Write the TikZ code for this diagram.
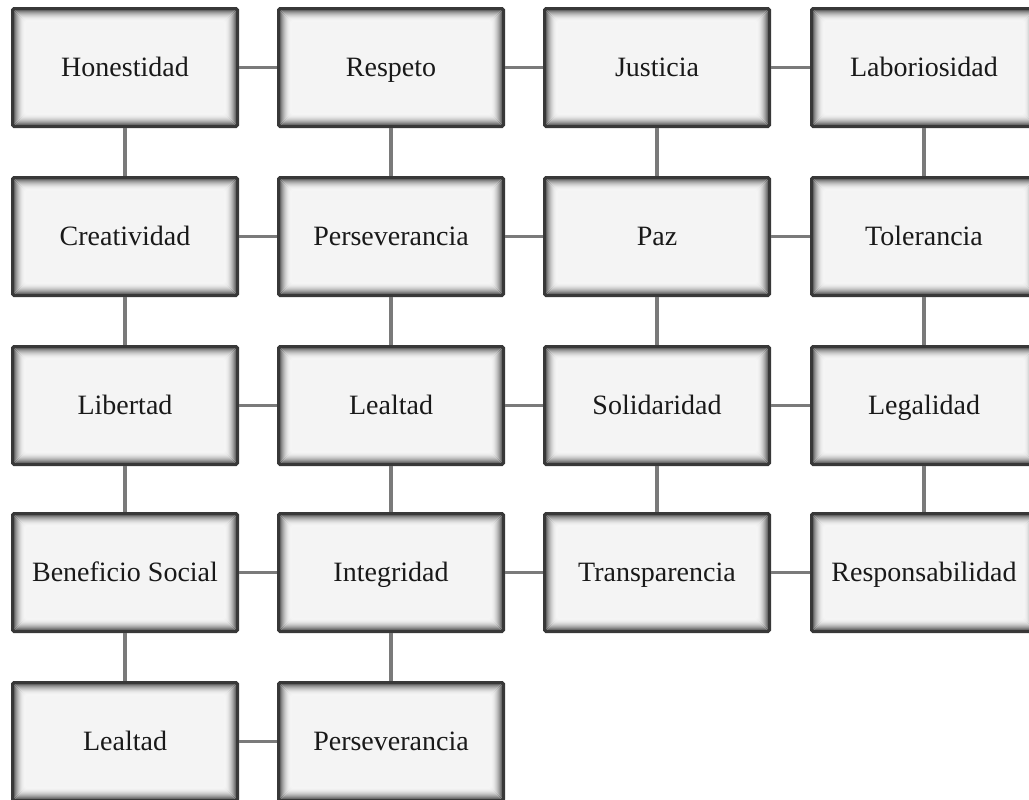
\documentclass[tikz,border=0pt]{standalone}
\usepackage{fontspec}
\setmainfont{Liberation Serif}
\definecolor{boxfill}{HTML}{F4F4F4}
\definecolor{boxedge}{HTML}{383838}
\definecolor{linkgray}{HTML}{7A7A7A}
\begin{document}
\begin{tikzpicture}[x=0.75pt,y=-0.75pt,
  value/.style={
    draw=boxedge, line width=2.25pt, rounded corners=1.2pt,
    fill=boxfill, inner sep=0pt,
    minimum width=168.75pt, minimum height=88.5pt,
    text height=13.9pt, text depth=0pt,
    font=\fontsize{21}{25}\selectfont, text=black!90,
    path picture={
      \foreach \k in {0,...,12}{
        \pgfmathsetmacro{\shade}{4+64*(1-\k/12)^2}
        \draw[draw=black!\shade, line width=0.9pt]
          ([shift={(\k*0.75pt+0.9pt,-\k*0.75pt-0.9pt)}]path picture bounding box.north west)
          rectangle
          ([shift={(-\k*0.75pt-0.9pt,\k*0.75pt+0.9pt)}]path picture bounding box.south east);
      }
    }},
  link/.style={draw=linkgray, line width=2.3pt}]
\useasboundingbox (0,0) rectangle (1029,800);
\clip (0,0) rectangle (1029,800);

% row 1
\node[value] (hon) at (125,67.5)  {Honestidad};
\node[value] (res) at (391,67.5)  {Respeto};
\node[value] (jus) at (657,67.5)  {Justicia};
\node[value] (lab) at (924,67.5)  {Laboriosidad};
% row 2
\node[value] (cre) at (125,236.5) {Creatividad};
\node[value] (per) at (391,236.5) {Perseverancia};
\node[value] (paz) at (657,236.5) {Paz};
\node[value] (tol) at (924,236.5) {Tolerancia};
% row 3
\node[value] (lib) at (125,405.5) {Libertad};
\node[value] (lea) at (391,405.5) {Lealtad};
\node[value] (sol) at (657,405.5) {Solidaridad};
\node[value] (leg) at (924,405.5) {Legalidad};
% row 4
\node[value] (ben) at (125,572.5) {Beneficio Social};
\node[value] (int) at (391,572.5) {Integridad};
\node[value] (tra) at (657,572.5) {Transparencia};
\node[value] (rsp) at (924,572.5) {Responsabilidad};
% row 5
\node[value] (lea2) at (125,741.5) {Lealtad};
\node[value] (per2) at (391,741.5) {Perseverancia};

% horizontal links
\draw[link] (hon) -- (res);
\draw[link] (res) -- (jus);
\draw[link] (jus) -- (lab);
\draw[link] (cre) -- (per);
\draw[link] (per) -- (paz);
\draw[link] (paz) -- (tol);
\draw[link] (lib) -- (lea);
\draw[link] (lea) -- (sol);
\draw[link] (sol) -- (leg);
\draw[link] (ben) -- (int);
\draw[link] (int) -- (tra);
\draw[link] (tra) -- (rsp);
\draw[link] (lea2) -- (per2);

% vertical links
\draw[link] (hon) -- (cre);
\draw[link] (res) -- (per);
\draw[link] (jus) -- (paz);
\draw[link] (lab) -- (tol);
\draw[link] (cre) -- (lib);
\draw[link] (per) -- (lea);
\draw[link] (paz) -- (sol);
\draw[link] (tol) -- (leg);
\draw[link] (lib) -- (ben);
\draw[link] (lea) -- (int);
\draw[link] (sol) -- (tra);
\draw[link] (leg) -- (rsp);
\draw[link] (ben) -- (lea2);
\draw[link] (int) -- (per2);
\end{tikzpicture}
\end{document}
